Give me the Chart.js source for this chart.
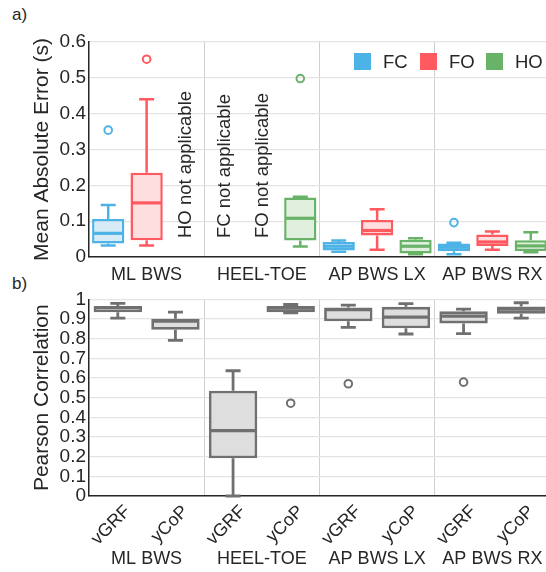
<!DOCTYPE html>
<html><head><meta charset="utf-8">
<script src="https://cdn.jsdelivr.net/npm/chart.js@4/dist/chart.umd.min.js"></script>
<style>
html,body{margin:0;padding:0;background:#fff;width:546px;height:572px;overflow:hidden;position:relative;font-family:'Liberation Sans',Arial,sans-serif;}
canvas{position:absolute;left:0;}
#c1{top:0}
#c2{top:285px}
.lab{position:absolute;left:12px;font-size:17px;line-height:17px;color:#262626;}
</style></head><body>
<div class="lab" style="top:6px">a)</div>
<div class="lab" style="top:275px">b)</div>
<canvas id="c1" width="556" height="285"></canvas>
<canvas id="c2" width="556" height="287"></canvas>
<script>
// ---------- data ----------
const groups = ['ML BWS', 'HEEL-TOE', 'AP BWS LX', 'AP BWS RX'];
const events = ['FC', 'FO', 'HO'];
const signals = ['vGRF', 'yCoP'];

// Panel a) Mean absolute error (s); per group; null = not applicable
const FC_min = [0.032, null, 0.015, 0.008];
const FC_q1  = [0.038, null, 0.018, 0.016];
const FC_med = [0.066, null, 0.030, 0.027];
const FC_q3  = [0.106, null, 0.042, 0.038];
const FC_max = [0.145, null, 0.046, 0.040];
const FC_out = [0.354, null, null, 0.096];

const FO_min = [0.032, null, 0.020, 0.020];
const FO_q1  = [0.047, null, 0.060, 0.031];
const FO_med = [0.151, null, 0.074, 0.042];
const FO_q3  = [0.235, null, 0.103, 0.063];
const FO_max = [0.440, null, 0.133, 0.071];
const FO_out = [0.552, null, null, null];

const HO_min = [null, 0.029, 0.008, 0.013];
const HO_q1  = [null, 0.046, 0.010, 0.017];
const HO_med = [null, 0.108, 0.030, 0.031];
const HO_q3  = [null, 0.166, 0.048, 0.047];
const HO_max = [null, 0.168, 0.052, 0.069];
const HO_out = [null, 0.498, null, null];

// Panel b) Pearson correlation
const vGRF_min = [0.905, 0.000, 0.858, 0.826];
const vGRF_q1  = [0.935, 0.192, 0.889, 0.878];
const vGRF_med = [0.958, 0.333, 0.948, 0.915];
const vGRF_q3  = [0.967, 0.535, 0.959, 0.940];
const vGRF_max = [0.980, 0.637, 0.971, 0.951];
const vGRF_out = [null, null, 0.571, 0.579];

const yCoP_min = [0.792, 0.932, 0.824, 0.905];
const yCoP_q1  = [0.845, 0.935, 0.853, 0.927];
const yCoP_med = [0.889, 0.956, 0.910, 0.950];
const yCoP_q3  = [0.902, 0.967, 0.962, 0.964];
const yCoP_max = [0.935, 0.974, 0.979, 0.983];
const yCoP_out = [null, 0.472, null, null];

const maeTicks = {min: 0, max: 0.6, step: 0.1};
const corrTicks = {min: 0, max: 1, step: 0.1};

// ---------- styles ----------
const FONT = "'Liberation Sans', Arial, sans-serif";
const TXT = '#262626';
Chart.defaults.font.family = FONT;
Chart.defaults.color = TXT;

const topStyles = {
  FC: {line: '#4DB3E6', fill: '#D8ECF8'},
  FO: {line: '#FF5A5F', fill: '#FFDEE0'},
  HO: {line: '#69B368', fill: '#E1EFDF'}
};
const grayStyle = {line: '#707070', fill: '#DEDEDE'};

// ---------- helpers ----------
function buildSeries(nSeries, sIdx, name, st, style, lw, medW) {
  const n = groups.length * nSeries;
  const box = new Array(n).fill(null);
  const out = new Array(n).fill(null);
  const stats = new Array(n).fill(null);
  const na = [];
  for (let g = 0; g < groups.length; g++) {
    const slot = g * nSeries + sIdx;
    if (st.med[g] === null) { na.push(slot); continue; }
    box[slot] = [st.q1[g], st.q3[g]];
    stats[slot] = {min: st.min[g], q1: st.q1[g], med: st.med[g], q3: st.q3[g], max: st.max[g]};
    out[slot] = st.out[g];
  }
  return [
    {type: 'bar', label: name, data: box, stats: stats, naSlots: na, legendBox: true,
     backgroundColor: style.fill, borderColor: style.line, borderWidth: lw, borderSkipped: false,
     whiskerWidth: lw, medianWidth: medW, xAxisID: 'x', yAxisID: 'y', order: 2},
    {type: 'line', label: name + ' outliers', data: out, showLine: false,
     pointRadius: 3.8, pointHoverRadius: 3.8, pointBorderWidth: 2,
     pointBackgroundColor: 'rgba(0,0,0,0)', borderColor: style.line, backgroundColor: 'rgba(0,0,0,0)',
     xAxisID: 'x', yAxisID: 'y', order: 1}
  ];
}

const boxPlugin = {
  id: 'boxWhiskers',
  afterDatasetsDraw(chart, args, opts) {
    const ctx = chart.ctx, ys = chart.scales.y;
    const cap = opts.cap || 15;
    chart.data.datasets.forEach((ds, di) => {
      if (!ds.stats) return;
      const meta = chart.getDatasetMeta(di);
      meta.data.forEach((el, i) => {
        const st = ds.stats[i];
        if (!st) return;
        const x = el.x, w = el.width;
        const p = v => ys.getPixelForValue(v);
        ctx.save();
        ctx.strokeStyle = ds.borderColor;
        ctx.lineWidth = ds.whiskerWidth;
        ctx.beginPath();
        ctx.moveTo(x, p(st.q3)); ctx.lineTo(x, p(st.max));
        ctx.moveTo(x - cap / 2, p(st.max)); ctx.lineTo(x + cap / 2, p(st.max));
        ctx.moveTo(x, p(st.q1)); ctx.lineTo(x, p(st.min));
        ctx.moveTo(x - cap / 2, p(st.min)); ctx.lineTo(x + cap / 2, p(st.min));
        ctx.stroke();
        ctx.lineWidth = ds.medianWidth;
        ctx.beginPath();
        ctx.moveTo(x - w / 2 + 1, p(st.med)); ctx.lineTo(x + w / 2 - 1, p(st.med));
        ctx.stroke();
        ctx.restore();
      });
    });
  }
};

const naPlugin = {
  id: 'notApplicable',
  afterDatasetsDraw(chart) {
    const ctx = chart.ctx, xs = chart.scales.x;
    chart.data.datasets.forEach(ds => {
      if (!ds.naSlots) return;
      ds.naSlots.forEach(slot => {
        const x = xs.getPixelForValue(slot);
        ctx.save();
        ctx.translate(x, chart.chartArea.bottom - 19);
        ctx.rotate(-Math.PI / 2);
        ctx.font = '18.5px ' + FONT;
        ctx.fillStyle = TXT;
        ctx.textAlign = 'left';
        ctx.textBaseline = 'middle';
        ctx.fillText(ds.label + ' not applicable', 0, 1);
        ctx.restore();
      });
    });
  }
};

const legendPlugin = {
  id: 'boxLegend',
  afterDraw(chart, args, opts) {
    if (!opts.show) return;
    const ctx = chart.ctx;
    let x = opts.x;
    const y = opts.y, sz = 17;
    ctx.save();
    ctx.font = '18.5px ' + FONT;
    ctx.textBaseline = 'middle';
    ctx.textAlign = 'left';
    chart.data.datasets.forEach(ds => {
      if (!ds.legendBox) return;
      ctx.fillStyle = ds.borderColor;
      ctx.fillRect(x, y, sz, sz);
      ctx.fillStyle = TXT;
      ctx.fillText(ds.label, x + 29, y + sz / 2 + 1);
      x += opts.step;
    });
    ctx.restore();
  }
};

function yScale(t, title, fs) {
  return {
    min: t.min, max: t.max,
    ticks: {stepSize: t.step, padding: 3, font: {size: 19}, color: TXT, autoSkip: false,
            callback: v => String(Math.round(v * 10) / 10)},
    grid: {color: '#e4e4e4', lineWidth: 1.2, drawTicks: false},
    border: {color: TXT, width: 1.5},
    title: {display: true, text: title, font: {size: fs}, color: TXT, padding: {top: 30, bottom: 0}},
    afterFit: s => { s.width = 89; }
  };
}

// ---------- chart a ----------
const topDatasets = [];
const topStats = {
  FC: {min: FC_min, q1: FC_q1, med: FC_med, q3: FC_q3, max: FC_max, out: FC_out},
  FO: {min: FO_min, q1: FO_q1, med: FO_med, q3: FO_q3, max: FO_max, out: FO_out},
  HO: {min: HO_min, q1: HO_q1, med: HO_med, q3: HO_q3, max: HO_max, out: HO_out}
};
events.forEach((e, s) => topDatasets.push(...buildSeries(3, s, e, topStats[e], topStyles[e], 2.5, 3.2)));
const topSlots = [];
groups.forEach(g => events.forEach(e => topSlots.push(g + ' ' + e)));

new Chart(document.getElementById('c1'), {
  data: {labels: topSlots, datasets: topDatasets},
  options: {
    animation: false, responsive: false,
    layout: {padding: {top: 42, right: 6, left: 0, bottom: 0}},
    datasets: {bar: {grouped: false, categoryPercentage: 1, barPercentage: 0.84}},
    plugins: {legend: {display: false}, tooltip: {enabled: false},
              boxWhiskers: {cap: 15}, boxLegend: {show: true, x: 354, y: 53, step: 66}},
    scales: {
      x: {type: 'category', axis: 'x', display: false, offset: true, weight: 0},
      xg: {type: 'category', axis: 'x', position: 'bottom', labels: groups, offset: true, weight: 1,
           grid: {offset: true, drawTicks: false, lineWidth: 1,
                  color: c => (c.index > 0 && c.index < groups.length) ? '#cfcfcf' : 'rgba(0,0,0,0)'},
           border: {color: TXT, width: 1.5},
           ticks: {padding: 7, font: {size: 18}, color: TXT, maxRotation: 0, autoSkip: false},
           afterFit: s => { s.height = 28; }},
      y: yScale(maeTicks, 'Mean Absolute Error (s)', 21)
    }
  },
  plugins: [boxPlugin, naPlugin, legendPlugin]
});

// ---------- chart b ----------
const botDatasets = [];
const botStats = {
  vGRF: {min: vGRF_min, q1: vGRF_q1, med: vGRF_med, q3: vGRF_q3, max: vGRF_max, out: vGRF_out},
  yCoP: {min: yCoP_min, q1: yCoP_q1, med: yCoP_med, q3: yCoP_q3, max: yCoP_max, out: yCoP_out}
};
signals.forEach((sg, s) => botDatasets.push(...buildSeries(2, s, sg, botStats[sg], grayStyle, 2.8, 3.2)));
const botSlots = [];
groups.forEach(g => signals.forEach(sg => botSlots.push(sg)));

new Chart(document.getElementById('c2'), {
  data: {labels: botSlots, datasets: botDatasets},
  options: {
    animation: false, responsive: false,
    layout: {padding: {top: 6, right: 6, left: 0, bottom: 0}},
    datasets: {bar: {grouped: false, categoryPercentage: 1, barPercentage: 0.84}},
    plugins: {legend: {display: false}, tooltip: {enabled: false},
              boxWhiskers: {cap: 15}, boxLegend: {show: false}},
    scales: {
      x: {type: 'category', axis: 'x', position: 'bottom', offset: true, weight: 0,
          grid: {offset: true, drawTicks: false, lineWidth: 1,
                 color: c => (c.index > 0 && c.index < botSlots.length && c.index % 2 === 0) ? '#cfcfcf' : 'rgba(0,0,0,0)'},
          border: {color: TXT, width: 1.5},
          ticks: {padding: 5, labelOffset: 10, font: {size: 18}, color: TXT, minRotation: 45, maxRotation: 45, autoSkip: false},
          afterFit: s => { s.height = 50; }},
      xg: {type: 'category', axis: 'x', position: 'bottom', labels: groups, offset: true, weight: 1,
           grid: {display: false, drawTicks: false}, border: {display: false},
           ticks: {padding: 2, font: {size: 18}, color: TXT, maxRotation: 0, autoSkip: false},
           afterFit: s => { s.height = 26; }},
      y: yScale(corrTicks, 'Pearson Correlation', 21)
    }
  },
  plugins: [boxPlugin, naPlugin, legendPlugin]
});
</script>
</body></html>
